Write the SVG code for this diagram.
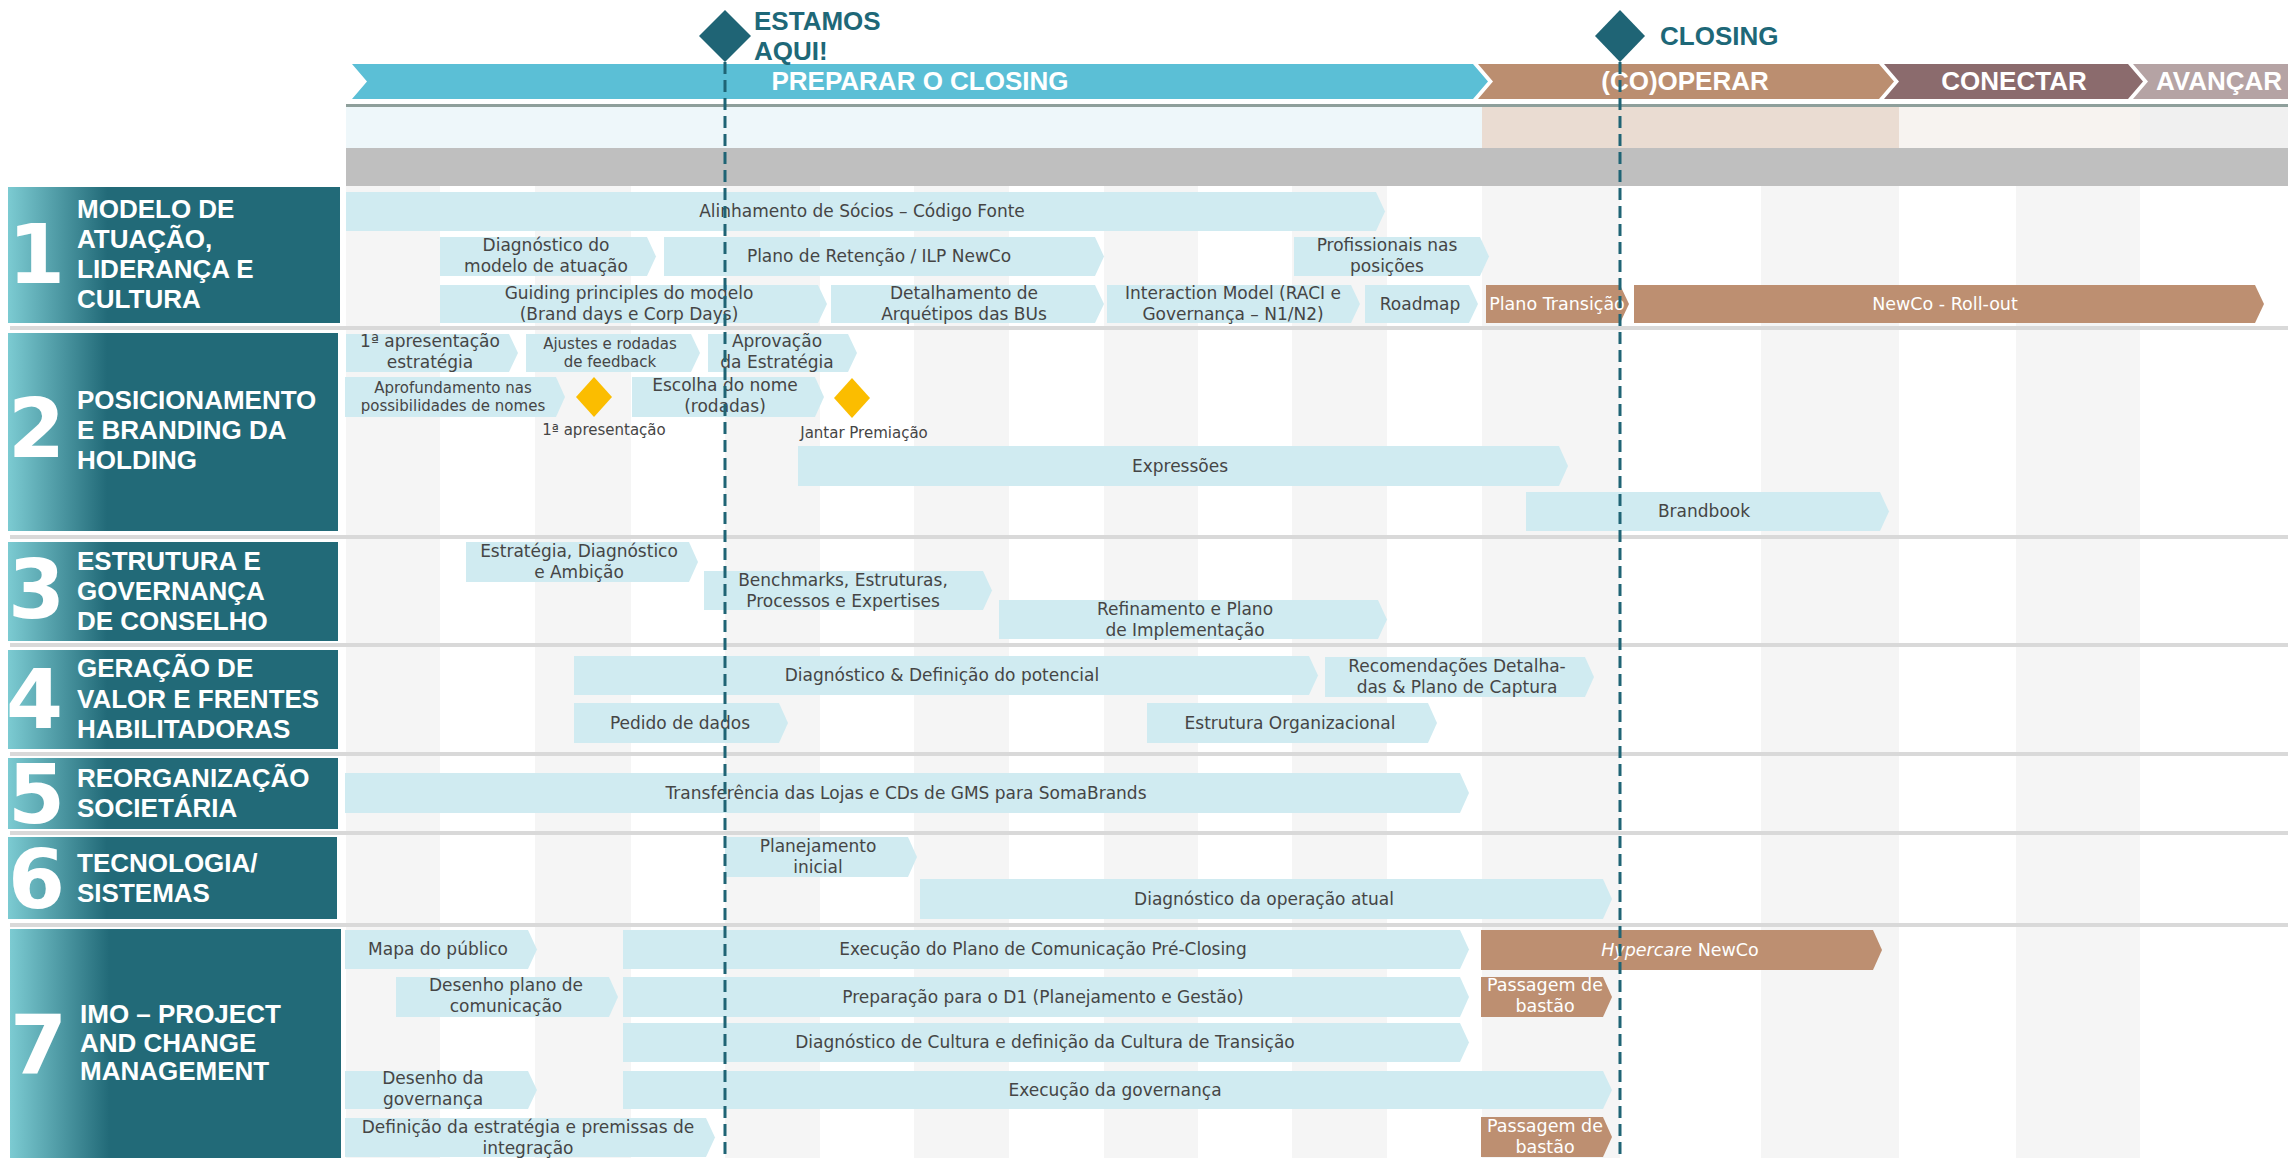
<svg xmlns="http://www.w3.org/2000/svg" width="2288" height="1158" viewBox="0 0 2288 1158">
<defs>
<linearGradient id="lg" x1="0" y1="0" x2="1" y2="0">
<stop offset="0" stop-color="#7ccbd2"/>
<stop offset="0.3" stop-color="#226a78"/>
<stop offset="1" stop-color="#226a78"/>
</linearGradient>
<style>
.bar{fill:#d0ebf1}
.bbar{fill:#bd8f71}
.col{fill:#f5f5f5}
.sep{fill:#d9d9d9}
.t{font-family:"DejaVu Sans","Liberation Sans",Arial,sans-serif;font-size:17px;fill:#454545;text-anchor:middle}
.s{font-size:15px}
.w{fill:#ffffff;font-size:17.5px}
.lbox{fill:url(#lg)}
.lbl{font-family:"Liberation Sans",Arial,sans-serif;font-weight:bold;font-size:26px;fill:#ffffff}
.num{font-family:"DejaVu Sans","Liberation Sans",sans-serif;font-weight:bold;font-size:82px;fill:#ffffff}
.ph{font-family:"Liberation Sans",Arial,sans-serif;font-weight:bold;font-size:26px;fill:#ffffff;text-anchor:middle}
.ms{font-family:"Liberation Sans",Arial,sans-serif;font-weight:bold;font-size:26px;fill:#1e6878}
.dash{stroke:#1f6475;stroke-width:3;stroke-dasharray:12 6;fill:none}
.yd{fill:#fbbd00}
</style>
</defs>
<rect width="2288" height="1158" fill="#ffffff"/>

<g id="grid">
<rect class="col" x="346" y="186" width="94" height="972"/>
<rect class="col" x="535" y="186" width="96" height="972"/>
<rect class="col" x="725" y="186" width="95" height="972"/>
<rect class="col" x="914" y="186" width="95" height="972"/>
<rect class="col" x="1104" y="186" width="94" height="972"/>
<rect class="col" x="1292" y="186" width="95" height="972"/>
<rect class="col" x="1482" y="186" width="138" height="972"/>
<rect class="col" x="1761" y="186" width="138" height="972"/>
<rect class="col" x="2016" y="186" width="124" height="972"/>
<rect class="sep" x="10" y="326" width="2278" height="4"/>
<rect class="sep" x="10" y="535" width="2278" height="4"/>
<rect class="sep" x="10" y="643" width="2278" height="4"/>
<rect class="sep" x="10" y="752" width="2278" height="4"/>
<rect class="sep" x="10" y="831" width="2278" height="4"/>
<rect class="sep" x="10" y="923" width="2278" height="4"/>
</g>

<g id="header">
<polygon points="352,64 1473,64 1488,81.5 1473,99 352,99 367,81.5" fill="#5bbfd6"/>
<polygon points="1478,64 1879,64 1894,81.5 1879,99 1478,99 1493,81.5" fill="#bb8e70"/>
<polygon points="1884,64 2128,64 2143,81.5 2128,99 1884,99 1899,81.5" fill="#8b6b6d"/>
<polygon points="2133,64 2290,64 2290,99 2133,99 2148,81.5" fill="#b5a3a4"/>
<text class="ph" x="920" y="90">PREPARAR O CLOSING</text>
<text class="ph" x="1685" y="90">(CO)OPERAR</text>
<text class="ph" x="2014" y="90">CONECTAR</text>
<text class="ph" x="2156" y="90" style="text-anchor:start">AVANÇAR</text>
<rect x="346" y="104" width="1942" height="3" fill="#8e9f9b"/>
<rect x="346" y="107" width="1136" height="41" fill="#eef7fa"/>
<rect x="1482" y="107" width="417" height="41" fill="#eadcd2"/>
<rect x="1899" y="107" width="241" height="41" fill="#f7f3f0"/>
<rect x="2140" y="107" width="148" height="41" fill="#f0f0f0"/>
<rect x="346" y="148" width="1942" height="38" fill="#bfbfbf"/>
</g>

<g id="label-1"><rect class="lbox" x="8" y="187" width="332" height="136"/>
<text class="num" x="8" y="283">1</text>
<text class="lbl" x="77" y="218">MODELO DE</text><text class="lbl" x="77" y="248">ATUAÇÃO,</text><text class="lbl" x="77" y="278">LIDERANÇA E</text><text class="lbl" x="77" y="308">CULTURA</text></g>
<g id="label-2"><rect class="lbox" x="8" y="333" width="330" height="198"/>
<text class="num" x="8" y="457">2</text>
<text class="lbl" x="77" y="409">POSICIONAMENTO</text><text class="lbl" x="77" y="439">E BRANDING DA</text><text class="lbl" x="77" y="469">HOLDING</text></g>
<g id="label-3"><rect class="lbox" x="8" y="542" width="330" height="99"/>
<text class="num" x="8" y="618">3</text>
<text class="lbl" x="77" y="570">ESTRUTURA E</text><text class="lbl" x="77" y="600">GOVERNANÇA</text><text class="lbl" x="77" y="630">DE CONSELHO</text></g>
<g id="label-4"><rect class="lbox" x="8" y="650" width="330" height="99"/>
<text class="num" x="6" y="728">4</text>
<text class="lbl" x="77" y="677">GERAÇÃO DE</text><text class="lbl" x="77" y="708">VALOR E FRENTES</text><text class="lbl" x="77" y="738">HABILITADORAS</text></g>
<g id="label-5"><rect class="lbox" x="8" y="758" width="330" height="71"/>
<text class="num" x="8" y="823">5</text>
<text class="lbl" x="77" y="787">REORGANIZAÇÃO</text><text class="lbl" x="77" y="817">SOCIETÁRIA</text></g>
<g id="label-6"><rect class="lbox" x="8" y="837" width="329" height="82"/>
<text class="num" x="8" y="908">6</text>
<text class="lbl" x="77" y="872">TECNOLOGIA/</text><text class="lbl" x="77" y="902">SISTEMAS</text></g>
<g id="label-7"><rect class="lbox" x="10" y="929" width="331" height="229"/>
<text class="num" x="10" y="1074">7</text>
<text class="lbl" x="80" y="1023">IMO – PROJECT</text><text class="lbl" x="80" y="1052">AND CHANGE</text><text class="lbl" x="80" y="1080">MANAGEMENT</text></g>

<g id="r1-alinhamento"><polygon class="bar" points="346,192 1376,192 1385,211.5 1376,231 346,231"/><text class="t" x="862" y="217">Alinhamento de Sócios – Código Fonte</text></g>
<g id="r1-diagnostico"><polygon class="bar" points="440,237 647,237 656,256.5 647,276 440,276"/><text class="t" x="546" y="251">Diagnóstico do</text><text class="t" x="546" y="272">modelo de atuação</text></g>
<g id="r1-retencao"><polygon class="bar" points="664,237 1095,237 1104,256.5 1095,276 664,276"/><text class="t" x="879" y="262">Plano de Retenção / ILP NewCo</text></g>
<g id="r1-profissionais"><polygon class="bar" points="1294,237 1480,237 1489,256.5 1480,276 1294,276"/><text class="t" x="1387" y="251">Profissionais nas</text><text class="t" x="1387" y="272">posições</text></g>
<g id="r1-guiding"><polygon class="bar" points="440,285 818,285 827,304 818,323 440,323"/><text class="t" x="629" y="299">Guiding principles do modelo</text><text class="t" x="629" y="320">(Brand days e Corp Days)</text></g>
<g id="r1-arquetipos"><polygon class="bar" points="831,285 1095,285 1104,304 1095,323 831,323"/><text class="t" x="964" y="299">Detalhamento de</text><text class="t" x="964" y="320">Arquétipos das BUs</text></g>
<g id="r1-interaction"><polygon class="bar" points="1107,285 1351,285 1360,304 1351,323 1107,323"/><text class="t" x="1233" y="299">Interaction Model (RACI e</text><text class="t" x="1233" y="320">Governança – N1/N2)</text></g>
<g id="r1-roadmap"><polygon class="bar" points="1365,285 1469,285 1478,304 1469,323 1365,323"/><text class="t" x="1420" y="310">Roadmap</text></g>
<g id="r1-transicao"><polygon class="bbar" points="1486,285 1620,285 1629,304 1620,323 1486,323"/><text class="t w" x="1557" y="310">Plano Transição</text></g>
<g id="r1-rollout"><polygon class="bbar" points="1634,285 2255,285 2264,304 2255,323 1634,323"/><text class="t w" x="1945" y="310">NewCo - Roll-out</text></g>

<g id="r2-apresentacao"><polygon class="bar" points="346,334 509,334 518,353 509,372 346,372"/><text class="t" x="430" y="347">1ª apresentação</text><text class="t" x="430" y="368">estratégia</text></g>
<g id="r2-ajustes"><polygon class="bar" points="526,334 691,334 700,353 691,372 526,372"/><text class="t s" x="610" y="349">Ajustes e rodadas</text><text class="t s" x="610" y="367">de feedback</text></g>
<g id="r2-aprovacao"><polygon class="bar" points="708,334 848,334 857,353 848,372 708,372"/><text class="t" x="777" y="347">Aprovação</text><text class="t" x="777" y="368">da Estratégia</text></g>
<g id="r2-aprofundamento"><polygon class="bar" points="345,377 556,377 565,397 556,417 345,417"/><text class="t s" x="453" y="393">Aprofundamento nas</text><text class="t s" x="453" y="411">possibilidades de nomes</text></g>
<g id="r2-m1"><polygon class="yd" points="594,377 612,397 594,417 576,397"/><text class="t s" x="604" y="435">1ª apresentação</text></g>
<g id="r2-escolha"><polygon class="bar" points="632,377 815,377 824,397 815,417 632,417"/><text class="t" x="725" y="391">Escolha do nome</text><text class="t" x="725" y="412">(rodadas)</text></g>
<g id="r2-m2"><polygon class="yd" points="852,378 870,398 852,418 834,398"/><text class="t s" x="864" y="438">Jantar Premiação</text></g>
<g id="r2-expressoes"><polygon class="bar" points="798,446 1559,446 1568,466 1559,486 798,486"/><text class="t" x="1180" y="472">Expressões</text></g>
<g id="r2-brandbook"><polygon class="bar" points="1526,492 1880,492 1889,511.5 1880,531 1526,531"/><text class="t" x="1704" y="517">Brandbook</text></g>

<g id="r3-estrategia"><polygon class="bar" points="466,542 689,542 698,562 689,582 466,582"/><text class="t" x="579" y="557">Estratégia, Diagnóstico</text><text class="t" x="579" y="578">e Ambição</text></g>
<g id="r3-benchmarks"><polygon class="bar" points="704,571 983,571 992,590.5 983,610 704,610"/><text class="t" x="843" y="586">Benchmarks, Estruturas,</text><text class="t" x="843" y="607">Processos e Expertises</text></g>
<g id="r3-refinamento"><polygon class="bar" points="999,600 1378,600 1387,619.5 1378,639 999,639"/><text class="t" x="1185" y="615">Refinamento e Plano</text><text class="t" x="1185" y="636">de Implementação</text></g>

<g id="r4-diagnostico"><polygon class="bar" points="574,656 1309,656 1318,675.5 1309,695 574,695"/><text class="t" x="942" y="681">Diagnóstico &amp; Definição do potencial</text></g>
<g id="r4-recomendacoes"><polygon class="bar" points="1325,657 1585,657 1594,677 1585,697 1325,697"/><text class="t" x="1457" y="672">Recomendações Detalha-</text><text class="t" x="1457" y="693">das &amp; Plano de Captura</text></g>
<g id="r4-pedido"><polygon class="bar" points="574,703 779,703 788,723 779,743 574,743"/><text class="t" x="680" y="729">Pedido de dados</text></g>
<g id="r4-estrutura"><polygon class="bar" points="1147,703 1428,703 1437,723 1428,743 1147,743"/><text class="t" x="1290" y="729">Estrutura Organizacional</text></g>

<g id="r5-transferencia"><polygon class="bar" points="345,773 1460,773 1469,793 1460,813 345,813"/><text class="t" x="906" y="799">Transferência das Lojas e CDs de GMS para SomaBrands</text></g>

<g id="r6-planejamento"><polygon class="bar" points="725,837 908,837 917,857 908,877 725,877"/><text class="t" x="818" y="852">Planejamento</text><text class="t" x="818" y="873">inicial</text></g>
<g id="r6-diagnostico"><polygon class="bar" points="920,879 1603,879 1612,899 1603,919 920,919"/><text class="t" x="1264" y="905">Diagnóstico da operação atual</text></g>

<g id="r7-mapa"><polygon class="bar" points="345,930 528,930 537,949.5 528,969 345,969"/><text class="t" x="438" y="955">Mapa do público</text></g>
<g id="r7-execucao-com"><polygon class="bar" points="623,930 1460,930 1469,949.5 1460,969 623,969"/><text class="t" x="1043" y="955">Execução do Plano de Comunicação Pré-Closing</text></g>
<g id="r7-hypercare"><polygon class="bbar" points="1481,930 1873,930 1882,950 1873,970 1481,970"/><text class="t w" x="1680" y="956"><tspan font-style="italic">Hypercare</tspan> NewCo</text></g>
<g id="r7-desenho-plano"><polygon class="bar" points="396,977 609,977 618,997 609,1017 396,1017"/><text class="t" x="506" y="991">Desenho plano de</text><text class="t" x="506" y="1012">comunicação</text></g>
<g id="r7-preparacao"><polygon class="bar" points="623,977 1460,977 1469,997 1460,1017 623,1017"/><text class="t" x="1043" y="1003">Preparação para o D1 (Planejamento e Gestão)</text></g>
<g id="r7-passagem1"><polygon class="bbar" points="1481,977 1603,977 1612,997 1603,1017 1481,1017"/><text class="t w" x="1545" y="991">Passagem de</text><text class="t w" x="1545" y="1012">bastão</text></g>
<g id="r7-cultura"><polygon class="bar" points="623,1023 1460,1023 1469,1042.5 1460,1062 623,1062"/><text class="t" x="1045" y="1048">Diagnóstico de Cultura e definição da Cultura de Transição</text></g>
<g id="r7-desenho-gov"><polygon class="bar" points="345,1071 528,1071 537,1090 528,1109 345,1109"/><text class="t" x="433" y="1084">Desenho da</text><text class="t" x="433" y="1105">governança</text></g>
<g id="r7-execucao-gov"><polygon class="bar" points="623,1071 1603,1071 1612,1090 1603,1109 623,1109"/><text class="t" x="1115" y="1096">Execução da governança</text></g>
<g id="r7-definicao"><polygon class="bar" points="345,1118 706,1118 715,1137.5 706,1157 345,1157"/><text class="t" x="528" y="1133">Definição da estratégia e premissas de</text><text class="t" x="528" y="1154">integração</text></g>
<g id="r7-passagem2"><polygon class="bbar" points="1481,1117 1603,1117 1612,1137 1603,1157 1481,1157"/><text class="t w" x="1545" y="1132">Passagem de</text><text class="t w" x="1545" y="1153">bastão</text></g>

<g id="connectors">
<line class="dash" x1="725" y1="62" x2="725" y2="1158"/>
<line class="dash" x1="1620" y1="62" x2="1620" y2="1158"/>
</g>

<g id="milestone-estamos"><polygon points="725,10 751,36 725,62 699,36" fill="#1f6475"/><text class="ms" x="754" y="30">ESTAMOS</text><text class="ms" x="754" y="60">AQUI!</text></g>
<g id="milestone-closing"><polygon points="1620,10 1645,36 1620,62 1595,36" fill="#1f6475"/><text class="ms" x="1660" y="45">CLOSING</text></g>
</svg>
